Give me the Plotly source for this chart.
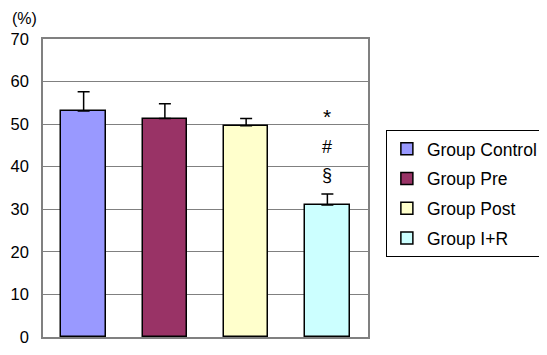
import plotly.graph_objects as go

groups = ["Group Control", "Group Pre", "Group Post", "Group I+R"]
means = [53.1, 51.3, 49.6, 31.0]
errors = [4.5, 3.5, 1.7, 2.6]
colors = ["#9999FF", "#993366", "#FFFFCC", "#CCFFFF"]
y_ticks = [0, 10, 20, 30, 40, 50, 60, 70]
symbols = ["*", "#", "§"]
symbol_y = [51.8, 44.6, 38.0]
symbol_size = [21, 18, 18]

FONT = "Arial, Liberation Sans, sans-serif"

fig = go.Figure()
for g, m, e, c in zip(groups, means, errors, colors):
    fig.add_trace(go.Bar(
        x=[g], y=[m], name=g, legendgroup=g,
        marker=dict(color=c, line=dict(color="#000000", width=1.5)),
        width=0.55,
        error_y=dict(type="data", symmetric=False, array=[e], arrayminus=[0],
                     color="#000000", thickness=1.5, width=6),
    ))

for s, yv, sz in zip(symbols, symbol_y, symbol_size):
    fig.add_annotation(x=groups[3], y=yv, text=s, showarrow=False,
                       font=dict(size=sz, color="#000000", family=FONT))

fig.add_annotation(xref="paper", yref="paper", x=-0.098, y=1.1, xanchor="left", yanchor="top",
                   text="(%)", showarrow=False, borderpad=0,
                   font=dict(size=16, color="#000000", family=FONT))

fig.update_layout(
    width=547, height=355,
    margin=dict(l=35, r=184, t=31, b=26),
    paper_bgcolor="#FFFFFF", plot_bgcolor="#FFFFFF",
    barmode="overlay",
    bargap=0,
    font=dict(family=FONT, size=16, color="#000000"),
    showlegend=True,
    legend=dict(x=1.055, y=0.695, xanchor="left", yanchor="top",
                bordercolor="#000000", borderwidth=1, bgcolor="#FFFFFF",
                font=dict(size=17.5, color="#000000", family=FONT), tracegroupgap=4),
    xaxis=dict(showticklabels=False, showgrid=False, zeroline=False,
               showline=True, linecolor="#808080", linewidth=1.5, mirror=True,
               categoryorder="array", categoryarray=groups, range=[-0.5, 3.5],
               automargin=False),
    yaxis=dict(range=[0, 70], tickvals=y_ticks, showgrid=True, gridcolor="#808080",
               gridwidth=1, zeroline=False, showline=True, linecolor="#808080",
               linewidth=1.5, mirror=True, ticks="outside", ticklen=9,
               tickcolor="rgba(0,0,0,0)", automargin=False,
               tickfont=dict(size=16.5, color="#000000", family=FONT)),
)

fig.write_html("out.html")
